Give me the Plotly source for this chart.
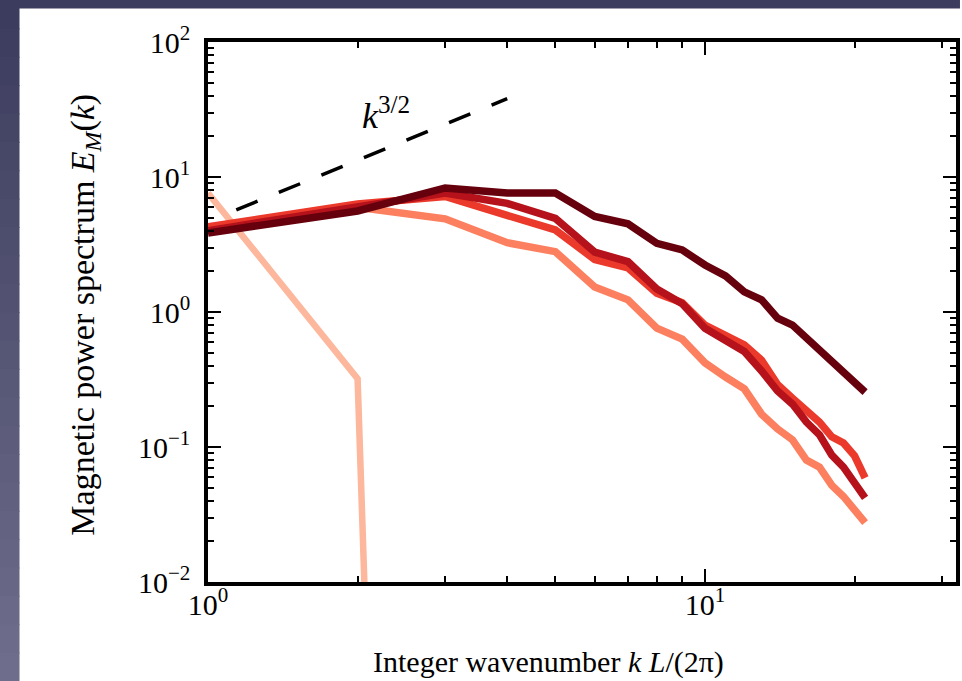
import plotly.graph_objects as go

# ---- spectra: magnetic energy per integer wavenumber at successive times ----
k_early = [1, 2, 3]
E_early = [7.6, 0.32, 1e-20]

k = list(range(1, 22))
E_t1 = [4.1, 5.97, 4.9, 3.26, 2.8, 1.53, 1.23, 0.76, 0.63, 0.42, 0.33,
        0.27, 0.175, 0.136, 0.113, 0.080, 0.071, 0.052, 0.043, 0.034, 0.0275]
E_t2 = [4.27, 6.3, 7.17, 5.24, 4.05, 2.45, 2.12, 1.38, 1.17, 0.80, 0.676,
        0.57, 0.44, 0.29, 0.23, 0.188, 0.153, 0.119, 0.107, 0.086, 0.059]
E_t3 = [4.0, 6.0, 7.6, 6.38, 4.94, 2.78, 2.36, 1.48, 1.15, 0.757, 0.62,
        0.51, 0.366, 0.26, 0.208, 0.153, 0.123, 0.087, 0.071, 0.055, 0.042]
E_t4 = [3.85, 5.6, 8.3, 7.6, 7.6, 5.1, 4.5, 3.23, 2.88, 2.23, 1.85,
        1.41, 1.23, 0.90, 0.80, 0.64, 0.52, 0.43, 0.36, 0.30, 0.255]

# k^{3/2} guide line
k_ref = [1.14, 4.0]
E_ref = [5.7, 38.0]

series_colors = ["#fcb79c", "#fc7f5f", "#eb3a2b", "#b5121b", "#67000d"]

x_tickvals = [1, 10]
x_ticktext = ["10<sup>0</sup>", "10<sup>1</sup>"]
x_minor = [2, 3, 4, 5, 6, 7, 8, 9, 20, 30]
y_tickvals = [0.01, 0.1, 1, 10, 100]
y_ticktext = ["10<sup>\u22122</sup>", "10<sup>\u22121</sup>", "10<sup>0</sup>",
              "10<sup>1</sup>", "10<sup>2</sup>"]
y_minor = [m * 10.0 ** e for e in (-2, -1, 0, 1) for m in range(2, 10)]

# ---- figure geometry (pixels) ----
W, H = 962, 681
ML, MR, MT, MB = 208, 2, 42, 99
PW, PH = W - ML - MR, H - MT - MB


def px(xp):
    return (xp - ML) / PW


def py(yp):
    return (H - MB - yp) / PH


FONT = "Liberation Serif"

fig = go.Figure()

fig.add_trace(go.Scatter(x=k_early, y=E_early, mode="lines",
                         line=dict(color=series_colors[0], width=6.5)))
for vals, col in zip([E_t1, E_t2, E_t3, E_t4], series_colors[1:]):
    fig.add_trace(go.Scatter(x=k, y=vals, mode="lines",
                             line=dict(color=col, width=7.5)))
fig.add_trace(go.Scatter(x=k_ref, y=E_ref, mode="lines",
                         line=dict(color="black", width=3.5, dash="23px,23px")))

axis_common = dict(
    type="log", showgrid=False, zeroline=False,
    showline=True, linecolor="black", linewidth=3.5, mirror="allticks",
    ticks="inside", ticklen=13, tickwidth=2, tickcolor="black",
    tickfont=dict(family=FONT, size=30, color="black"),
)

fig.update_xaxes(**axis_common, range=[0, 1.50515], tickmode="array",
                 tickvals=x_tickvals, ticktext=x_ticktext, ticklabelstandoff=-7,
                 minor=dict(tickmode="array", tickvals=x_minor, ticks="inside",
                            ticklen=6, tickwidth=2, tickcolor="black"))
fig.update_yaxes(**axis_common, range=[-2, 2], tickmode="array",
                 tickvals=y_tickvals, ticktext=y_ticktext, ticklabelstandoff=8,
                 minor=dict(tickmode="array", tickvals=y_minor, ticks="inside",
                            ticklen=6, tickwidth=2, tickcolor="black"))

# slide backdrop: white panel inside a dark frame along the top and left
shapes = []
top_col = (0x3c, 0x3c, 0x5e)
bot_col = (0x6e, 0x6d, 0x8b)
n_bands = 24
for i in range(n_bands):
    t = i / (n_bands - 1)
    c = tuple(round(a + (b - a) * t) for a, b in zip(top_col, bot_col))
    shapes.append(dict(type="rect", xref="paper", yref="paper", layer="below",
                       x0=px(-2), x1=px(18.5),
                       y0=py(H * (i + 1) / n_bands + 1), y1=py(H * i / n_bands),
                       line=dict(width=0), fillcolor="rgb(%d,%d,%d)" % c))
shapes.append(dict(type="rect", xref="paper", yref="paper", layer="below",
                   x0=px(-2), x1=px(W + 2), y0=py(8.5), y1=py(-2),
                   line=dict(width=0), fillcolor="rgb(60,60,94)"))

annotations = [
    dict(text="<i>k</i><sup>3/2</sup>", x=px(387), y=py(113), xref="paper",
         yref="paper", showarrow=False, xanchor="center", yanchor="middle",
         font=dict(family=FONT, size=36, color="black")),
    dict(text="Integer wavenumber <i>k L</i>/(2\u03c0)", x=px(550), y=py(662),
         xref="paper", yref="paper", showarrow=False, xanchor="center",
         yanchor="middle", font=dict(family=FONT, size=30, color="black")),
    dict(text="Magnetic power spectrum <i>E<sub>M</sub></i>(<i>k</i>)",
         x=px(84), y=py(315), xref="paper", yref="paper", showarrow=False,
         textangle=-90, xanchor="center", yanchor="middle",
         font=dict(family=FONT, size=34, color="black")),
]

fig.update_layout(
    width=W, height=H, autosize=False,
    margin=dict(l=ML, r=MR, t=MT, b=MB, pad=0),
    paper_bgcolor="white", plot_bgcolor="white",
    showlegend=False, shapes=shapes, annotations=annotations,
)

fig.write_html("out.html")
